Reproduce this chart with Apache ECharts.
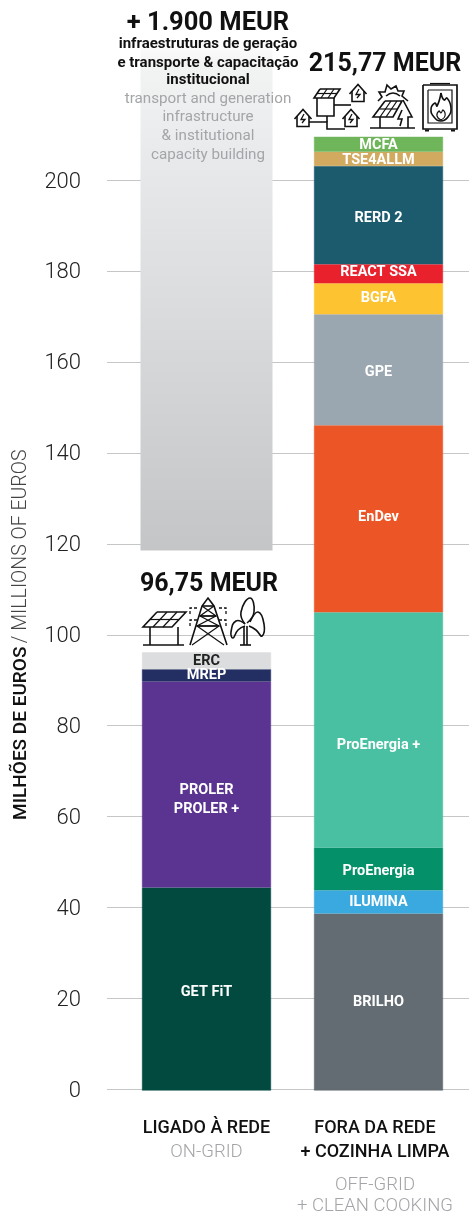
<!DOCTYPE html>
<html>
<head>
<meta charset="utf-8">
<style>
  html, body { margin: 0; padding: 0; background: #fff; }
  #chart { width: 469px; height: 1213px; }
</style>
<script src="https://cdn.jsdelivr.net/npm/echarts@6/dist/echarts.min.js"></script>
</head>
<body>
<div id="chart"></div>
<script>
const categories = ['on', 'off'];
const yTicks = [0, 20, 40, 60, 80, 100, 120, 140, 160, 180, 200];

// bottom to top
const onGridNames = ['GET FiT', 'PROLER\nPROLER +', 'MREP', 'ERC'];
const onGridValues = [44.6, 45.3, 2.7, 3.7];
const onGridColors = ['#024a40', '#5b3491', '#232f62', '#dcddde'];
const onGridShift = [3, 15, 0, 1];

const offGridNames = ['BRILHO', 'ILUMINA', 'ProEnergia', 'ProEnergia +', 'EnDev', 'GPE', 'BGFA', 'REACT SSA', 'RERD 2', 'TSE4ALLM', 'MCFA'];
const offGridValues = [38.9, 5.1, 9.4, 51.7, 41.1, 24.4, 6.8, 4.2, 21.6, 3.1, 3.3];
const offGridColors = ['#626c72', '#3aa9df', '#049068', '#49c0a2', '#ec5627', '#9aa7b0', '#fdc331', '#e8212d', '#1c5b6e', '#d2aa5f', '#6fb55a'];
const offGridShift = [0, 0, 2, 15, -1, 3, 0, -1, 3, 1, 1];

// grey block for the 1.900 MEUR, cut off at the top of the page
const beyondBase = 118.7;
const beyondValue = 112.3;

const FONT = 'Roboto';
const DARK = '#111';
const GREY = '#a3a5a8';

const series = [];
onGridValues.forEach((v, i) => {
  series.push({
    name: onGridNames[i], type: 'bar', stack: 'total', xAxisIndex: 0, yAxisIndex: 1,
    barWidth: 129, clip: false, z: 3,
    data: [v, '-'],
    itemStyle: { color: onGridColors[i], borderColor: onGridColors[i], borderWidth: 0.5 },
    label: {
      show: true, position: 'inside', formatter: onGridNames[i], offset: [0, onGridShift[i]],
      color: onGridNames[i] === 'ERC' ? '#222' : '#fff',
      fontFamily: FONT, fontWeight: 'bold', fontSize: 14.5, lineHeight: 19
    }
  });
});
offGridValues.forEach((v, i) => {
  series.push({
    name: offGridNames[i], type: 'bar', stack: 'total', xAxisIndex: 0, yAxisIndex: 1,
    barWidth: 129, clip: false, z: 3,
    data: ['-', v],
    itemStyle: { color: offGridColors[i], borderColor: offGridColors[i], borderWidth: 0.5 },
    label: {
      show: true, position: 'inside', formatter: offGridNames[i], offset: [0, offGridShift[i]], color: '#fff',
      fontFamily: FONT, fontWeight: 'bold', fontSize: 14.5
    }
  });
});
series.push({
  type: 'bar', stack: 'beyond', xAxisIndex: 1, yAxisIndex: 2, barWidth: 132, clip: false, silent: true, z: 2,
  data: [beyondBase, '-'], itemStyle: { color: 'transparent' }
});
series.push({
  type: 'bar', stack: 'beyond', xAxisIndex: 1, yAxisIndex: 2, barWidth: 132, clip: false, silent: true, z: 2,
  data: [beyondValue, '-'],
  itemStyle: {
    color: {
      type: 'linear', x: 0, y: 0, x2: 0, y2: 1,
      colorStops: [
        { offset: 0, color: '#ffffff' },
        { offset: 0.05, color: '#f2f3f3' },
        { offset: 0.28, color: '#e6e7e9' },
        { offset: 1, color: '#c4c5c7' }
      ]
    }
  }
});

// annotations
function txt(x, y, text, size, weight, color) {
  return {
    type: 'text', x, y, z: 20,
    style: { text, fontSize: size, fontWeight: weight, fill: color, fontFamily: FONT, align: 'center', verticalAlign: 'middle' }
  };
}
function pl(points, smooth, width, dash) {
  return {
    type: 'polyline', z: 20,
    shape: { points, smooth: smooth ? 0.5 : 0 },
    style: { stroke: '#111', fill: null, lineWidth: width || 1.6, lineDash: dash || null }
  };
}
function house(cx, cy) {
  return [
    pl([[cx - 8.5, cy + 1], [cx, cy - 8.5], [cx + 8.5, cy + 1]]),
    pl([[cx - 6, cy - 2], [cx - 6, cy + 8.5], [cx + 6, cy + 8.5], [cx + 6, cy - 2]]),
    pl([[cx + 1, cy - 4], [cx - 2, cy + 1.5], [cx + 2, cy + 1.5], [cx - 1, cy + 5]], false, 1.3)
  ];
}

const labels = [
  txt(208, 24, '+ 1.900 MEUR', 25.5, 'bold', DARK),
  txt(208, 44, 'infraestruturas de geração', 15, 'bold', DARK),
  txt(208, 63, 'e transporte & capacitação', 15, 'bold', DARK),
  txt(208, 80, 'institucional', 15, 'bold', DARK),
  txt(208, 99, 'transport and generation', 15.2, 'normal', GREY),
  txt(208, 117, 'infrastructure', 15.2, 'normal', GREY),
  txt(208, 136, '& institutional', 15.2, 'normal', GREY),
  txt(208, 155, 'capacity building', 15.2, 'normal', GREY),
  txt(385, 65, '215,77 MEUR', 25, 'bold', DARK),
  txt(209, 585, '96,75 MEUR', 25, 'bold', DARK)
];

const icons = [
  // solar shed
  pl([[157, 612], [186, 612], [172, 627], [143, 627], [157, 612]]),
  pl([[150, 619.5], [179, 619.5]], false, 1.2),
  pl([[167, 612], [153, 627]], false, 1.2),
  pl([[177, 612], [163, 627]], false, 1.2),
  pl([[150, 627], [150, 645]]), pl([[178, 627], [178, 645]]), pl([[143, 645], [184, 645]]),
  // pylon
  pl([[190, 645], [202, 606], [208, 598], [214, 606], [227, 645]]),
  pl([[202, 606], [214, 606]]), pl([[200, 616], [216, 616]]), pl([[197, 626], [219, 626]]),
  pl([[202, 606], [216, 616], [200, 616], [214, 606]], false, 1.2),
  pl([[200, 616], [219, 626], [197, 626], [216, 616]], false, 1.2),
  pl([[197, 626], [224, 645]], false, 1.2), pl([[219, 626], [192, 645]], false, 1.2),
  pl([[190, 614], [190, 608], [199, 608]], false, 1.3, [3, 2]),
  pl([[226, 614], [226, 608], [217, 608]], false, 1.3, [3, 2]),
  pl([[190, 626], [190, 620], [197, 620]], false, 1.3, [3, 2]),
  pl([[226, 626], [226, 620], [219, 620]], false, 1.3, [3, 2]),
  // wind turbine
  pl([[244, 626], [244, 645]]), pl([[247, 626], [247, 645]]), pl([[240, 645], [251, 645]]),
  pl([[245, 624], [241, 612], [250, 598], [254, 612], [247, 623]], true),
  pl([[250, 622], [258, 612], [264, 624], [262, 636], [256, 630], [249, 626]], true),
  pl([[245, 624], [236, 621], [231, 632], [233, 638], [238, 630], [245, 626]], true),
  // houses and wires
  ...house(303, 118), ...house(358, 93), ...house(351, 118),
  pl([[320, 89], [340, 89], [334, 98], [314, 98], [320, 89]]),
  pl([[317, 93.5], [337, 93.5]], false, 1.2), pl([[327, 89], [321, 98]], false, 1.2), pl([[334, 89], [328, 98]], false, 1.2),
  pl([[317, 98], [317, 116], [334, 116], [334, 98]]),
  pl([[334, 105], [351, 105]]),
  pl([[309, 122], [327, 122], [327, 129], [345, 129]]),
  pl([[327, 116], [327, 122]]),
  // panel and sun
  pl([[378, 101], [382, 97], [379, 92], [385, 92], [387, 85], [391, 89], [396, 86], [398, 91], [404, 91], [402, 96], [408, 101]]),
  pl([[386, 96], [393, 93], [400, 96]], true),
  pl([[385, 101], [402, 101], [393, 117], [373, 117], [385, 101]]),
  pl([[380, 109], [398, 109]], false, 1.2), pl([[391, 101], [380, 117]], false, 1.2), pl([[397, 101], [386, 117]], false, 1.2),
  pl([[403, 100], [412, 117], [408, 117], [408, 128]]),
  pl([[380, 117], [380, 128]]), pl([[370, 128], [415, 128]]),
  pl([[402, 110], [398, 119], [402, 119], [400, 126]]),
  // stove
  pl([[423, 85], [457, 85], [457, 129], [423, 129], [423, 85]], false, 1.7),
  pl([[428, 90], [452, 90], [452, 123], [428, 123], [428, 90]], false, 1.2),
  pl([[430, 83.5], [450, 83.5]], false, 1.2), pl([[425, 130.5], [429, 130.5]], false, 2), pl([[451, 130.5], [455, 130.5]], false, 2),
  pl([[441, 93], [444, 100], [447, 98], [451, 108], [448, 117], [441, 121], [434, 117], [431, 109], [435, 103], [437, 106], [441, 93]], true),
  pl([[441, 120], [437, 116], [439, 111], [441, 113], [443, 110], [445, 116], [441, 120]], true, 1.2)
];

const chart = echarts.init(document.getElementById('chart'), null, { renderer: 'canvas' });
chart.setOption({
  animation: false,
  backgroundColor: '#fff',
  grid: [
    { left: 107, right: 0, top: 180, height: 909.5, outerBoundsMode: 'none' },
    { left: 120.5, right: 4.5, top: 180.5, height: 910, outerBoundsMode: 'none' }
  ],
  xAxis: [
    {
      type: 'category', gridIndex: 1, data: categories,
      axisLine: { show: false }, axisTick: { show: false },
      axisLabel: {
        margin: 26, interval: 0, hideOverlap: false,
        formatter: (c) => c === 'on'
          ? '{a|LIGADO À REDE}\n{b|ON-GRID}'
          : '{a2|FORA DA REDE}\n{a2|+ COZINHA LIMPA}\n{c|OFF-GRID}\n{b2|+ CLEAN COOKING}',
        rich: {
          a: { fontFamily: FONT, fontSize: 18, fontWeight: 500, color: DARK, lineHeight: 24, align: 'center' },
          a2: { fontFamily: FONT, fontSize: 18, fontWeight: 500, color: DARK, lineHeight: 24, align: 'center', padding: [0, 7, 0, 0] },
          b: { fontFamily: FONT, fontSize: 18.5, fontWeight: 300, color: GREY, lineHeight: 24, align: 'center' },
          b2: { fontFamily: FONT, fontSize: 18.5, fontWeight: 300, color: GREY, lineHeight: 24, align: 'center', padding: [0, 7, 0, 0] },
          c: { fontFamily: FONT, fontSize: 18.5, fontWeight: 300, color: GREY, lineHeight: 30, verticalAlign: 'bottom', align: 'center', padding: [0, 7, 0, 0] }
        }
      }
    },
    { type: 'category', gridIndex: 1, data: categories, show: false },
    { type: 'category', gridIndex: 0, data: categories, show: false }
  ],
  yAxis: [
    {
      type: 'value', gridIndex: 0, min: 0, max: 200, interval: 20,
      axisLine: { show: false }, axisTick: { show: false },
      splitLine: { lineStyle: { color: '#c4c6c8', width: 1.2 } },
      axisLabel: {
        margin: 26,
        formatter: (v) => (yTicks.includes(v) ? '{t|' + v + '}' : ''),
        rich: {
          t: { fontFamily: FONT, fontSize: 22, fontWeight: 300, color: '#222', padding: [4, 0, 0, 0] }
        }
      },
      name: '{a|MILHÕES DE EUROS} {b|/ MILLIONS OF EUROS}',
      nameLocation: 'middle', nameGap: 76, nameRotate: 90,
      nameTextStyle: {
        rich: {
          a: { fontFamily: FONT, fontSize: 19, fontWeight: 500, color: DARK },
          b: { fontFamily: FONT, fontSize: 19.5, fontWeight: 300, color: '#444' }
        }
      }
    },
    { type: 'value', gridIndex: 1, min: 0, max: 200, interval: 20, show: false },
    { type: 'value', gridIndex: 1, min: 0, max: 200, interval: 20, show: false }
  ],
  series: series.concat([{ type: 'bar', xAxisIndex: 2, yAxisIndex: 0, data: [], silent: true }]),
  graphic: { elements: labels.concat(icons) }
});
</script>
</body>
</html>
